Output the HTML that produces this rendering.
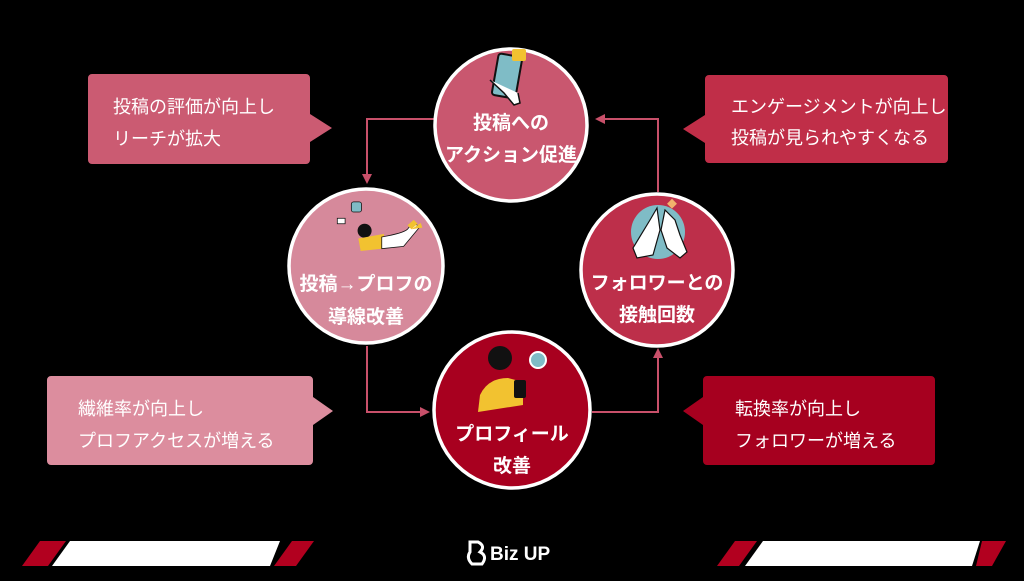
<!DOCTYPE html>
<html><head><meta charset="utf-8"><style>
html,body{margin:0;padding:0;background:#000;}
body{width:1024px;height:576px;overflow:hidden;}
svg text{font-family:"Liberation Sans","Noto Sans CJK JP",sans-serif;}
</style></head><body>
<svg width="1024" height="576" viewBox="0 0 1024 576" xmlns="http://www.w3.org/2000/svg">
<rect width="1024" height="576" fill="#000"/>
<defs>
<marker id="ah" markerWidth="10" markerHeight="10" refX="8" refY="5" orient="auto" markerUnits="userSpaceOnUse">
<path d="M0,0 L10,5 L0,10 z" fill="#c8506a"/></marker>
</defs>
<g stroke="#c8506a" stroke-width="2" fill="none">
<polyline points="434,119 367,119 367,182" marker-end="url(#ah)"/>
<polyline points="367,346 367,412 428,412" marker-end="url(#ah)"/>
<polyline points="592,412 658,412 658,350" marker-end="url(#ah)"/>
<polyline points="658,192 658,119 597,119" marker-end="url(#ah)"/>
</g>
<path d="M92,74 H306 a4,4 0 0 1 4,4 V114 L332,128 L310,142 V160 a4,4 0 0 1 -4,4 H92 a4,4 0 0 1 -4,-4 V78 a4,4 0 0 1 4,-4z" fill="#cb5b72"/>
<text x="113" y="113" fill="#fff" font-size="18">投稿の評価が向上し</text>
<text x="113" y="145" fill="#fff" font-size="18">リーチが拡大</text>

<path d="M709,75 H944 a4,4 0 0 1 4,4 V159 a4,4 0 0 1 -4,4 H709 a4,4 0 0 1 -4,-4 V143 L683,129 L705,115 V79 a4,4 0 0 1 4,-4z" fill="#c02e48"/>
<text x="731" y="113" fill="#fff" font-size="18">エンゲージメントが向上し</text>
<text x="731" y="144" fill="#fff" font-size="18">投稿が見られやすくなる</text>

<path d="M51,376 H309 a4,4 0 0 1 4,4 V397 L333,411 L313,425 V461 a4,4 0 0 1 -4,4 H51 a4,4 0 0 1 -4,-4 V380 a4,4 0 0 1 4,-4z" fill="#dc8d9e"/>
<text x="78" y="415" fill="#fff" font-size="18">繊維率が向上し</text>
<text x="78" y="447" fill="#fff" font-size="18">プロフアクセスが増える</text>

<path d="M707,376 H931 a4,4 0 0 1 4,4 V461 a4,4 0 0 1 -4,4 H707 a4,4 0 0 1 -4,-4 V425 L683,411 L703,397 V380 a4,4 0 0 1 4,-4z" fill="#a6001f"/>
<text x="735" y="415" fill="#fff" font-size="18">転換率が向上し</text>
<text x="735" y="447" fill="#fff" font-size="18">フォロワーが増える</text>

<g stroke="#fff" stroke-width="3.5">
<circle cx="511" cy="125" r="76" fill="#c9576f"/>
<circle cx="366" cy="266" r="77" fill="#d6899b"/>
<circle cx="512" cy="410" r="78" fill="#a8001f"/>
<circle cx="657" cy="270" r="76" fill="#bd2f4a"/>
</g>
<g transform="translate(490,55)">
<rect x="5" y="0" width="24" height="42" rx="3" fill="#7fbcc6" stroke="#111" stroke-width="2" transform="rotate(10 17 21)"/>
<path d="M0,25 L14,38 L24,50 L30,48 L28,38" fill="#fff" stroke="#111" stroke-width="1.5"/>
<rect x="22" y="-6" width="14" height="12" rx="2" fill="#f2c230"/>
</g>
<g transform="translate(310,198) scale(0.78)">
<rect x="53" y="5" width="13" height="13" rx="3" fill="#7fbcc6" stroke="#111" stroke-width="1"/>
<rect x="35" y="26" width="10" height="7" fill="#fff" stroke="#111" stroke-width="1"/>
<circle cx="70" cy="42" r="9" fill="#111"/>
<path d="M62,52 L95,46 L92,65 L65,68z" fill="#f2c230"/>
<path d="M92,50 Q120,45 125,40 L133,30 L140,38 L120,62 L92,65z" fill="#fff" stroke="#111" stroke-width="1"/>
<path d="M125,35 L133,28 L138,33 L130,40z M130,40 L142,32 L144,38z" fill="#f2c230"/>
</g>
<g transform="translate(478,340)">
<circle cx="22" cy="18" r="12" fill="#111"/>
<circle cx="60" cy="20" r="8" fill="#7fbcc6" stroke="#fff" stroke-width="2"/>
<path d="M2,55 Q10,38 30,38 L45,42 L45,65 L0,72z" fill="#f2c230"/>
<rect x="36" y="40" width="12" height="18" rx="2" fill="#111"/>
</g>
<g transform="translate(625,200)">
<circle cx="33" cy="32" r="27" fill="#7fbcc6"/>
<rect x="44" y="0" width="7" height="7" fill="#f2b36c" transform="rotate(45 47 3)"/>
<path d="M8,48 L25,20 L32,8 L35,30 L28,55 L12,58z" fill="#fff" stroke="#111" stroke-width="1.2"/>
<path d="M36,30 L40,10 L50,20 L55,35 L62,52 L55,58 L42,48z" fill="#fff" stroke="#111" stroke-width="1.2"/>
</g>
<g fill="#fff" font-size="19" font-weight="bold" text-anchor="middle">
<text x="511" y="129">投稿への</text>
<text x="511" y="161">アクション促進</text>
<text x="366" y="290">投稿→プロフの</text>
<text x="366" y="323">導線改善</text>
<text x="512" y="440">プロフィール</text>
<text x="512" y="472">改善</text>
<text x="657" y="289">フォロワーとの</text>
<text x="657" y="321">接触回数</text>
</g>
<polygon points="40,541 66,541 48,566 22,566" fill="#b2001f"/>
<polygon points="70,541 280,541 270,566 52,566" fill="#fff"/>
<polygon points="292,541 314,541 296,566 274,566" fill="#b2001f"/>
<polygon points="735,541 757,541 739,566 717,566" fill="#b2001f"/>
<polygon points="763,541 980,541 972,566 745,566" fill="#fff"/>
<polygon points="982,541 1006,541 992,566 976,566" fill="#b2001f"/>
<path d="M470,542 L478,542 Q486,546 480,552 Q488,556 482,564 L472,564 Q466,558 470,552 Z" fill="none" stroke="#fff" stroke-width="3"/>
<text x="490" y="560" fill="#fff" font-size="19" font-weight="bold">Biz UP</text>
</svg>
</body></html>
